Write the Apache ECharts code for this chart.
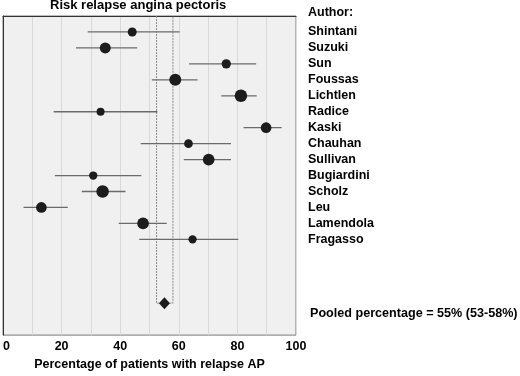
<!DOCTYPE html>
<html>
<head>
<meta charset="utf-8">
<script src="https://cdn.jsdelivr.net/npm/echarts@6/dist/echarts.min.js"></script>
<style>
  html, body { margin: 0; padding: 0; background: #fff; }
  #chart { width: 520px; height: 376px; }
</style>
</head>
<body>
<div id="chart"></div>
<script>
// studies, top to bottom
const authors = ["Shintani", "Suzuki", "Sun", "Foussas", "Lichtlen", "Radice", "Kaski",
  "Chauhan", "Sullivan", "Bugiardini", "Scholz", "Leu", "Lamendola", "Fragasso"];
const estimate = [44.1, 34.9, 76.2, 58.8, 81.2, 33.3, 89.8, 63.3, 70.2, 30.8, 34.0, 13.1, 47.8, 64.7];
const ciLow = [28.9, 24.9, 63.5, 50.8, 74.5, 17.3, 82.1, 47.0, 61.7, 17.7, 26.9, 7.0, 39.5, 46.5];
const ciHigh = [60.3, 45.8, 86.4, 66.4, 86.6, 52.7, 95.1, 77.8, 77.8, 47.2, 41.8, 22.1, 55.9, 80.3];
// relative study weight (drives marker size)
const weight = [9, 11, 9.3, 12, 12.5, 8, 10.7, 8.7, 11.7, 8.3, 12.5, 10.7, 11.7, 8.3];

// pooled estimate
const pooledRow = 18;
const pooled = 55.1;
const pooledLow = 52.4;
const pooledHigh = 58.0;

const FONT = "'Liberation Sans', Arial, sans-serif";

const chart = echarts.init(document.getElementById("chart"));

const rows = authors.map((a, i) => i + 1);

chart.setOption({
  animation: false,
  backgroundColor: "#fff",
  textStyle: { fontFamily: FONT },
  title: [
    {
      text: "Risk relapse angina pectoris",
      left: 50, top: -1.5, padding: 0,
      textStyle: { fontSize: 13, fontWeight: "bold", color: "#000", fontFamily: FONT },
    },
    {
      text: "Author:",
      left: 308, top: 6, padding: 0,
      textStyle: { fontSize: 12.5, fontWeight: "bold", color: "#000", fontFamily: FONT },
    },
    {
      text: "Pooled percentage = 55% (53-58%)",
      left: 310, top: 307, padding: 0,
      textStyle: { fontSize: 12.6, fontWeight: "bold", color: "#000", fontFamily: FONT },
    },
  ],
  grid: {
    left: 0, right: 224, top: 16, bottom: 36,
    show: true,
    backgroundColor: "#f0f0f0",
    borderColor: "#7a7a7a",
    borderWidth: 1,
  },
  xAxis: {
    type: "value",
    min: 0, max: 100, interval: 10,
    name: "Percentage of patients with relapse AP",
    nameLocation: "middle",
    nameGap: 21,
    nameTextStyle: { fontSize: 12.5, fontWeight: "bold", color: "#000", fontFamily: FONT },
    axisLine: { show: true, lineStyle: { color: "#333", width: 1 } },
    axisTick: { show: false },
    axisLabel: {
      margin: 5,
      fontSize: 12.5, fontWeight: "bold", color: "#000", fontFamily: FONT,
      alignMinLabel: "left",
      formatter: (v) => (v % 20 === 0 ? String(v) : ""),
    },
    splitLine: { show: true, lineStyle: { color: "#d9d9d9", width: 1 } },
  },
  yAxis: [
    {
      type: "value",
      inverse: true,
      min: 0, max: 20, interval: 1,
      position: "right",
      axisLine: { show: false },
      axisTick: { show: false },
      splitLine: { show: false },
      axisLabel: {
        margin: 12,
        fontSize: 12.5, fontWeight: "bold", color: "#000", fontFamily: FONT,
        formatter: (v) => authors[v - 1] || "",
      },
    },
    {
      type: "value",
      inverse: true,
      min: 0, max: 20, interval: 1,
      position: "left",
      axisLine: { show: true, lineStyle: { color: "#333", width: 1 } },
      axisTick: { show: false },
      splitLine: { show: false },
      axisLabel: { show: false },
    },
  ],
  series: [
    {
      // dashed bounds of the pooled CI, down to the pooled row
      type: "custom",
      silent: true,
      data: [[pooledLow, pooledHigh, pooledRow]],
      renderItem: (params, api) => {
        const lo = api.value(0), hi = api.value(1), r = api.value(2);
        const pts = [api.coord([lo, 0]), api.coord([lo, r]), api.coord([hi, r]), api.coord([hi, 0])];
        return {
          type: "polyline",
          shape: { points: pts },
          style: { fill: null, stroke: "#8a8a8a", lineWidth: 1, lineDash: [2, 1] },
        };
      },
      z: 2,
    },
    {
      // confidence intervals
      type: "custom",
      silent: true,
      data: rows.map((r, i) => [ciLow[i], ciHigh[i], r]),
      renderItem: (params, api) => {
        const a = api.coord([api.value(0), api.value(2)]);
        const b = api.coord([api.value(1), api.value(2)]);
        return {
          type: "line",
          shape: { x1: a[0], y1: a[1], x2: b[0], y2: b[1] },
          style: { stroke: "#6a6a6a", lineWidth: 1.3 },
        };
      },
      z: 3,
    },
    {
      type: "scatter",
      silent: true,
      data: rows.map((r, i) => [estimate[i], r, weight[i]]),
      symbol: "circle",
      symbolSize: (val) => val[2],
      itemStyle: { color: "#1c1c1c", opacity: 1 },
      z: 4,
    },
    {
      type: "scatter",
      silent: true,
      data: [[pooled, pooledRow]],
      symbol: "diamond",
      symbolSize: [11, 12],
      itemStyle: { color: "#1c1c1c", opacity: 1 },
      z: 4,
    },
  ],
});
</script>
</body>
</html>
